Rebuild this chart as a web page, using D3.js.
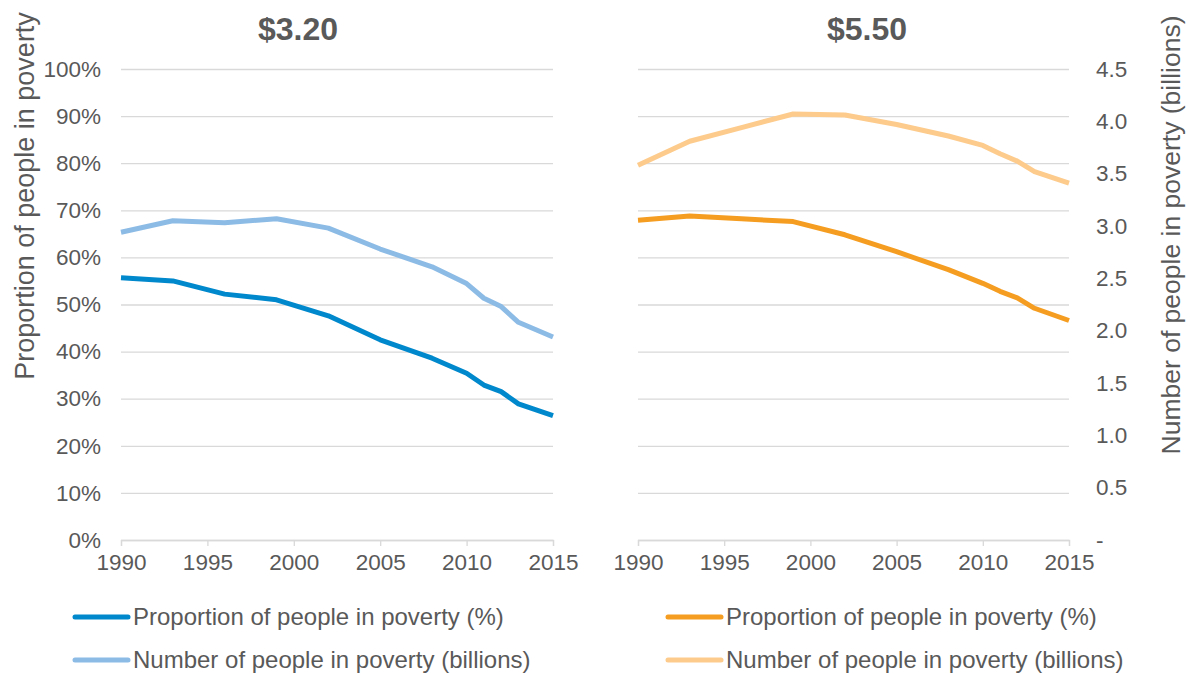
<!DOCTYPE html>
<html>
<head>
<meta charset="utf-8">
<script src="https://cdn.jsdelivr.net/npm/d3@7"></script>
<style>
  body { margin: 0; background: #fff; }
  svg { font-family: "Liberation Sans", Arial, sans-serif; }
</style>
</head>
<body>
<svg id="chart" width="1190" height="675"></svg>
<script>
const years = [1990, 1993, 1996, 1999, 2002, 2005, 2008, 2010, 2011, 2012, 2013, 2015];

// $3.20 line
const share320 = [55.7, 55.0, 52.2, 51.0, 47.6, 42.5, 38.6, 35.4, 32.9, 31.5, 28.9, 26.4];
const count320 = [2.94, 3.05, 3.03, 3.07, 2.98, 2.78, 2.61, 2.45, 2.31, 2.23, 2.08, 1.94];

// $5.50 line
const share550 = [67.9, 68.8, 68.2, 67.6, 64.8, 61.2, 57.4, 54.5, 52.8, 51.4, 49.2, 46.6];
const count550 = [3.58, 3.81, 3.94, 4.07, 4.06, 3.97, 3.86, 3.77, 3.69, 3.62, 3.52, 3.41];

const yearTicks = [1990, 1995, 2000, 2005, 2010, 2015];
const legendLabels = ['Proportion of people in poverty (%)', 'Number of people in poverty (billions)'];

const TEXT = '#595959';
const GRID = '#d9d9d9';
const FONT = '"Liberation Sans", Arial, sans-serif';
const TICK_SIZE = '22.5px';

const svg = d3.select('#chart');
const plotTop = 69, plotBottom = 540;

const yPct = d3.scaleLinear().domain([0, 100]).range([plotBottom, plotTop]);
const yNum = d3.scaleLinear().domain([0, 4.5]).range([plotBottom, plotTop]);

const panels = [
  { title: '$3.20', titleX: 298, x0: 121, x1: 553, share: share320, count: count320,
    dark: '#0088cc', light: '#8cbbe6', leftAxis: true, rightAxis: false, legendX: 75 },
  { title: '$5.50', titleX: 867, x0: 638, x1: 1069, share: share550, count: count550,
    dark: '#f59d20', light: '#fdcb8c', leftAxis: false, rightAxis: true, legendX: 668 }
];

panels.forEach(p => {
  const x = d3.scaleLinear().domain([1990, 2015]).range([p.x0, p.x1]);
  const g = svg.append('g');

  // gridlines
  g.append('g')
    .attr('transform', `translate(${p.x0},0)`)
    .call(d3.axisLeft(yPct).ticks(10).tickSize(-(p.x1 - p.x0)).tickFormat(''))
    .call(a => a.select('.domain').remove())
    .call(a => a.selectAll('.tick line').attr('stroke', GRID).attr('stroke-width', 1.3));

  // x axis
  g.append('g').attr('transform', `translate(0,${plotBottom})`)
    .call(d3.axisBottom(x).tickValues(yearTicks).tickFormat(d3.format('d')).tickSize(6).tickPadding(8))
    .call(a => a.select('.domain').attr('stroke', GRID).attr('stroke-width', 1.3))
    .call(a => a.selectAll('.tick line').attr('stroke', GRID).attr('stroke-width', 1.3))
    .call(a => a.selectAll('.tick text').attr('fill', TEXT).attr('font-size', TICK_SIZE).attr('font-family', FONT));

  if (p.leftAxis) {
    g.append('g').attr('transform', `translate(${p.x0},0)`)
      .call(d3.axisLeft(yPct).ticks(10).tickSize(0).tickPadding(20).tickFormat(d => d + '%'))
      .call(a => a.select('.domain').remove())
      .call(a => a.selectAll('.tick text').attr('fill', TEXT).attr('font-size', TICK_SIZE).attr('font-family', FONT));
    svg.append('text')
      .attr('transform', 'translate(34,196) rotate(-90)')
      .attr('text-anchor', 'middle').attr('fill', TEXT).attr('font-size', '27px')
      .text('Proportion of people in poverty');
  }

  if (p.rightAxis) {
    g.append('g').attr('transform', `translate(${p.x1},0)`)
      .call(d3.axisRight(yNum).ticks(9).tickSize(0).tickPadding(27)
        .tickFormat(d => d === 0 ? '-' : d3.format('.1f')(d)))
      .call(a => a.select('.domain').remove())
      .call(a => a.selectAll('.tick text').attr('fill', TEXT).attr('font-size', TICK_SIZE).attr('font-family', FONT));
    svg.append('text')
      .attr('transform', 'translate(1180,235) rotate(-90)')
      .attr('text-anchor', 'middle').attr('fill', TEXT).attr('font-size', '26.5px')
      .text('Number of people in poverty (billions)');
  }

  // title
  svg.append('text')
    .attr('x', p.titleX).attr('y', 40)
    .attr('text-anchor', 'middle').attr('fill', TEXT)
    .attr('font-size', '32px').attr('font-weight', 'bold')
    .text(p.title);

  const lineShare = d3.line().x((d, i) => x(years[i])).y(d => yPct(d));
  const lineCount = d3.line().x((d, i) => x(years[i])).y(d => yNum(d));

  g.append('path').datum(p.count).attr('d', lineCount)
    .attr('fill', 'none').attr('stroke', p.light).attr('stroke-width', 5).attr('stroke-linejoin', 'round');
  g.append('path').datum(p.share).attr('d', lineShare)
    .attr('fill', 'none').attr('stroke', p.dark).attr('stroke-width', 5).attr('stroke-linejoin', 'round');

  // legend
  const leg = svg.append('g');
  [p.dark, p.light].forEach((c, i) => {
    const ly = 617 + i * 43;
    leg.append('line').attr('x1', p.legendX).attr('x2', p.legendX + 53)
      .attr('y1', ly).attr('y2', ly)
      .attr('stroke', c).attr('stroke-width', 5).attr('stroke-linecap', 'round');
    leg.append('text').attr('x', p.legendX + 58).attr('y', ly).attr('dy', '0.35em')
      .attr('fill', TEXT).attr('font-size', '24px').text(legendLabels[i]);
  });
});
</script>
</body>
</html>
